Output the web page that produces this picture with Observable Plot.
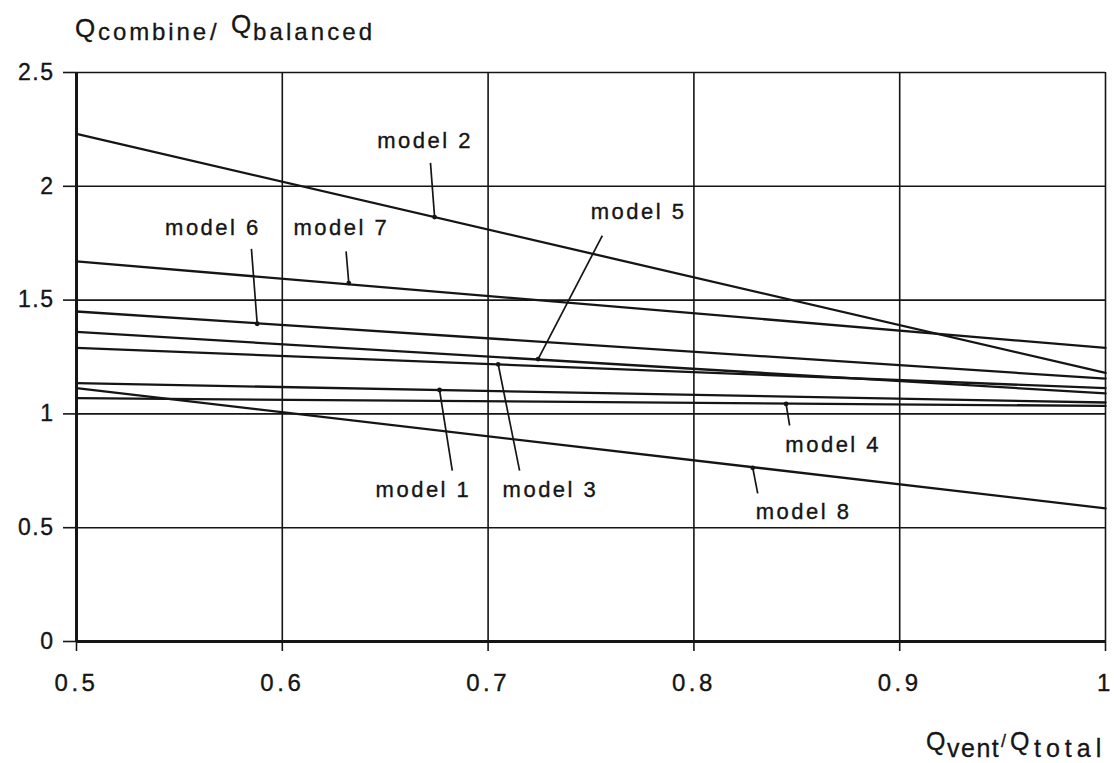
<!DOCTYPE html>
<html>
<head>
<meta charset="utf-8">
<script src="https://cdn.jsdelivr.net/npm/d3@7"></script>
<script src="https://cdn.jsdelivr.net/npm/@observablehq/plot@0.6"></script>
<style>
  html, body { margin: 0; padding: 0; background: #fff; }
  #chart { width: 1114px; height: 763px; }
</style>
</head>
<body>
<div id="chart"></div>
<script>
// ---- data ----
const models = ["model 1", "model 2", "model 3", "model 4", "model 5", "model 6", "model 7", "model 8"];
const xStart = 0.5;
const xEnd = 1;
const yAtStart = [1.135, 2.23, 1.29, 1.069, 1.36, 1.45, 1.67, 1.113];
const yAtEnd   = [1.05, 1.18, 1.113, 1.035, 1.09, 1.155, 1.29, 0.585];

// marker dots on each line (where the leader line touches)
const markerX = [0.6764, 0.674, 0.7049, 0.8448, 0.7243, 0.5878, 0.6323, 0.8286];
const markerY = [1.105, 1.865, 1.218, 1.044, 1.241, 1.396, 1.575, 0.763];
// free end of each leader line
const leadX = [0.6826, 0.672, 0.7153, 0.8465, 0.7555, 0.585, 0.631, 0.831];
const leadY = [0.751, 2.103, 0.751, 0.949, 1.783, 1.725, 1.714, 0.651];
// label anchor (centre)
const labelX = [0.6686, 0.6694, 0.7303, 0.8677, 0.7731, 0.5663, 0.6287, 0.8533];
const labelY = [0.664, 2.198, 0.664, 0.862, 1.889, 1.816, 1.816, 0.570];

const xTicks = [0.5, 0.6, 0.7, 0.8, 0.9, 1];
const yTicks = [0, 0.5, 1, 1.5, 2, 2.5];

// ---- build tables ----
const lineData = models.flatMap((m, i) => [
  {model: m, x: xStart, y: yAtStart[i]},
  {model: m, x: xEnd, y: yAtEnd[i]}
]);
const ann = models.map((m, i) => ({
  model: m, mx: markerX[i], my: markerY[i], lx: leadX[i], ly: leadY[i], tx: labelX[i], ty: labelY[i]
}));

const ink = "#151515";
const fmt = d => (d === 0 || d === 1 || d === 2) ? String(d) : d.toFixed(1);

const plot = Plot.plot({
  width: 1114,
  height: 763,
  marginLeft: 76,
  marginRight: 9,
  marginTop: 72,
  marginBottom: 122,
  x: {domain: [0.5, 1], label: null},
  y: {domain: [0, 2.5], label: null},
  style: {
    fontFamily: "'Liberation Sans', Arial, Helvetica, sans-serif",
    fontSize: "21px",
    color: ink,
    background: "#fff"
  },
  marks: [
    Plot.gridX(xTicks, {stroke: ink, strokeOpacity: 1, strokeWidth: 1.6}),
    Plot.gridY(yTicks, {stroke: ink, strokeOpacity: 1, strokeWidth: 1.6}),
    Plot.axisX(xTicks, {tickSize: 10, tickPadding: 22, stroke: ink, strokeWidth: 1.6, tickFormat: fmt, label: null, fill: ink, fontSize: 24}),
    Plot.axisY(yTicks, {tickSize: 13, tickPadding: 9, stroke: ink, strokeWidth: 1.6, tickFormat: fmt, label: null, fill: ink, fontSize: 23}),
    Plot.ruleY([0], {stroke: ink, strokeWidth: 3}),
    Plot.ruleX([0.5], {stroke: ink, strokeWidth: 3}),
    Plot.line(lineData, {x: "x", y: "y", z: "model", stroke: ink, strokeWidth: 2.3}),
    Plot.link(ann, {x1: "mx", y1: "my", x2: "lx", y2: "ly", stroke: ink, strokeWidth: 1.7}),
    Plot.dot(ann, {x: "mx", y: "my", r: 2.4, fill: ink, stroke: "none"}),
    Plot.text(ann, {x: "tx", y: "ty", text: "model", fontSize: 22, fill: ink, textAnchor: "middle"})
  ]
});

document.getElementById("chart").appendChild(plot);

const svg = d3.select(plot);
svg.selectAll("text")
  .style("letter-spacing", "2.5px")
  .style("stroke", ink)
  .style("stroke-width", "0.35px");
svg.selectAll("g[aria-label='x-axis tick label'] text").style("letter-spacing", "3.5px");
svg.selectAll("g[aria-label='y-axis tick label'] text").style("letter-spacing", "1.5px");

// axis titles with subscripts: [x, baseline y, text, font size, letter spacing]
function addTitle(parts) {
  const t = svg.append("text")
    .attr("fill", ink)
    .attr("text-anchor", "start")
    .style("text-anchor", "start")
    .style("stroke", ink)
    .style("stroke-width", "0.3px");
  parts.forEach(p => t.append("tspan")
    .attr("x", p[0]).attr("y", p[1])
    .style("font-size", p[3] + "px")
    .style("letter-spacing", p[4] + "px")
    .text(p[2]));
}
addTitle([
  [75, 37, "Q", 26, 0],
  [98, 40, "combine", 24, 2.9],
  [210, 40, "/", 24, 0],
  [231, 33, "Q", 26, 0],
  [253, 40, "balanced", 24, 3.1]
]);
addTitle([
  [926, 750, "Q", 25, 0],
  [947, 757, "vent", 25, 1.5],
  [1001, 747, "/", 18, 0],
  [1010, 750, "Q", 25, 0],
  [1034, 757, "total", 25, 5]
]);
</script>
</body>
</html>
